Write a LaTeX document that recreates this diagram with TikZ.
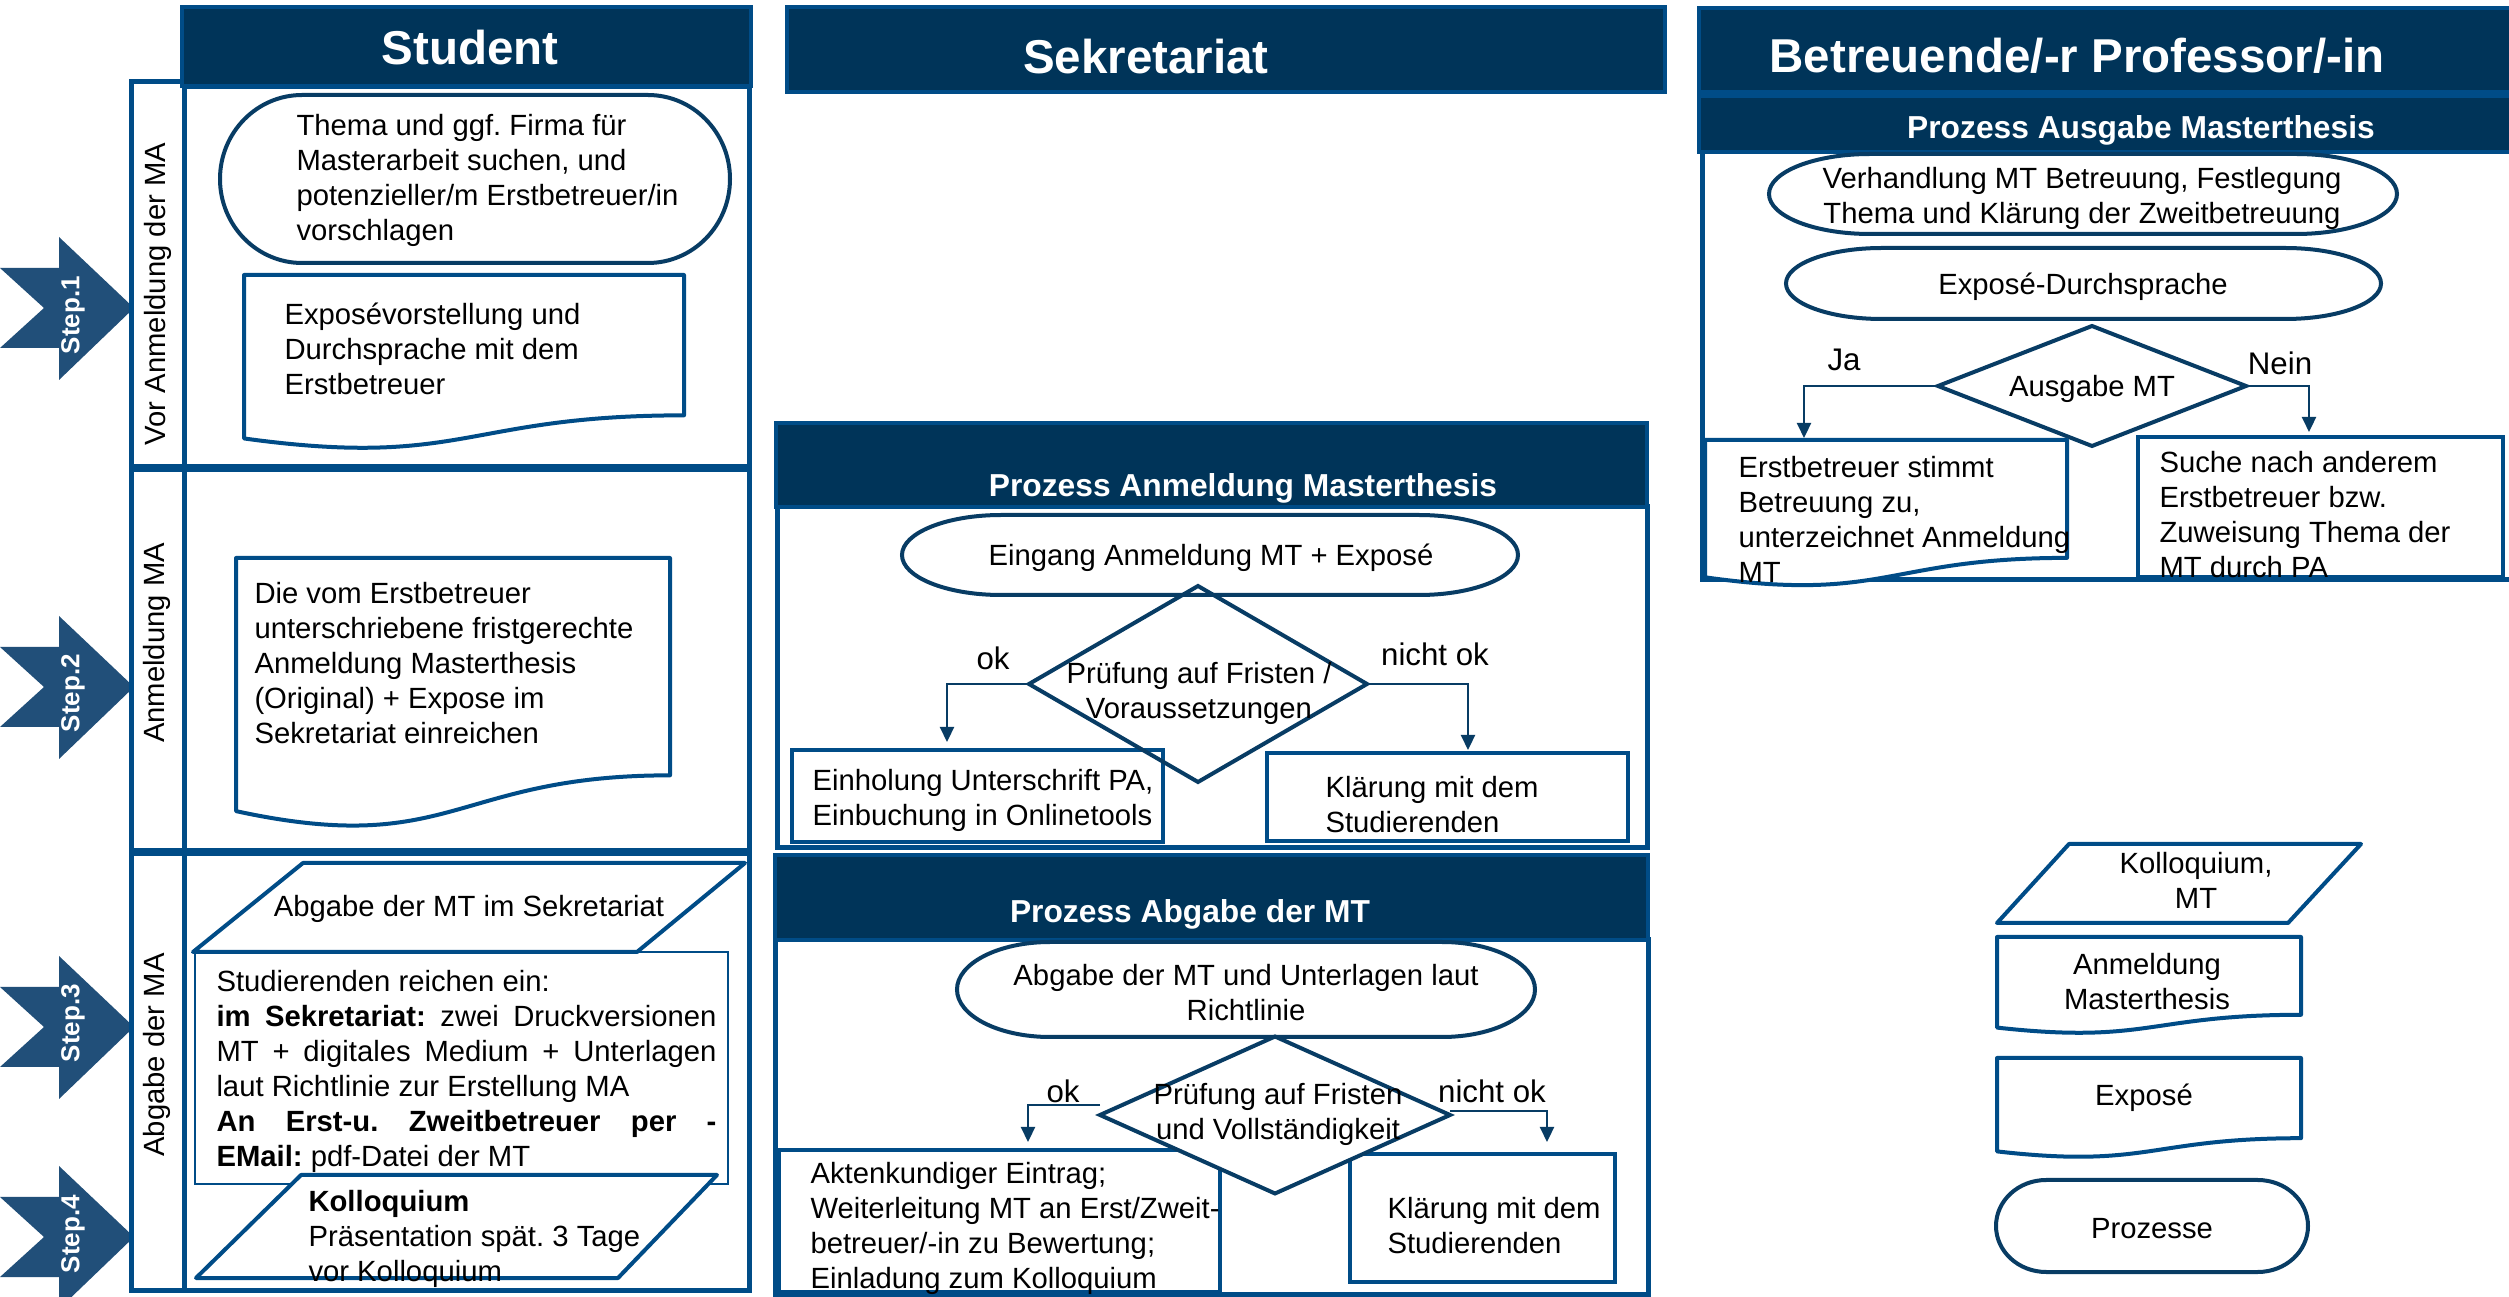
\documentclass[tikz,border=0pt]{standalone}
\usepackage{fontspec}
\setmainfont{Liberation Sans}
\usetikzlibrary{shapes.geometric,arrows.meta}
\definecolor{navy}{RGB}{0,52,89}
\definecolor{lineblue}{RGB}{0,76,135}
\definecolor{darkline}{RGB}{8,60,100}
\definecolor{stepblue}{RGB}{33,79,121}
\frenchspacing
\newcommand\boxnode[6]{\node[#6, minimum width={(#4-#2)*0.4pt}, minimum height={(#5-#3)*0.4pt}, inner sep=0pt, outer sep=0pt] (#1) at ({(#2+#4)/2},{(#3+#5)/2}) {};}
\newcommand\termshape[6]{%
 \pgfmathsetmacro\trx{0.161*(#4-#2)}%
 \pgfmathsetmacro\try{(#5-#3)/2}%
 \node[minimum width={(#4-#2)*0.4pt}, minimum height={(#5-#3)*0.4pt}, inner sep=0pt, outer sep=0pt] (#1) at ({(#2+#4)/2},{(#3+#5)/2}) {};
 \draw[#6] ({#2+\trx},#3) -- ({#4-\trx},#3) arc[start angle=90, end angle=-90, x radius=\trx*0.4pt, y radius=\try*0.4pt] -- ({#2+\trx},#5) arc[start angle=270, end angle=90, x radius=\trx*0.4pt, y radius=\try*0.4pt] -- cycle;}
\newcommand\docshape[5]{%
 \pgfmathsetmacro\dR{#3+0.802*#5}\pgfmathsetmacro\dC{#3+1.1075*#5}\pgfmathsetmacro\dL{#3+0.934*#5}\pgfmathsetmacro\dM{(#2+#4)/2}%
 \draw[docline] (#2,#3) -- (#4,#3) -- (#4,\dR) .. controls (\dM,\dR) and (\dM,\dC) .. (#2,\dL) -- cycle;
 \coordinate (#1) at (\dM,{#3+0.5*#5});}
\begin{document}
\begin{tikzpicture}[x=0.4pt,y=-0.4pt,
 hdr/.style={draw=lineblue, line width=1.4pt, fill=navy},
 cont/.style={draw=lineblue, line width=2pt, fill=white},
 bx/.style={draw=lineblue, line width=1.6pt, fill=white},
 termline/.style={draw=darkline, line width=1.6pt, fill=white},
 docline/.style={draw=lineblue, line width=1.6pt, fill=white, line join=round},
 paral/.style={draw=lineblue, line width=1.6pt, fill=white, line join=round},
 dia/.style={diamond, draw=darkline, line width=1.6pt, inner sep=0pt, outer sep=0pt},
 arr/.style={draw=darkline, line width=0.9pt, -{Triangle[length=6pt,width=5.6pt]}},
 txt/.style={font=\fontsize{11.7}{14}\selectfont, align=left, inner sep=0pt, anchor=west},
 ctxt/.style={font=\fontsize{11.7}{14}\selectfont, align=center, inner sep=0pt},
 lbl/.style={font=\fontsize{12.5}{15}\selectfont, inner sep=0pt},
 htxt/.style={font=\bfseries\fontsize{19}{22}\selectfont, text=white, inner sep=0pt},
 stxt/.style={font=\bfseries\fontsize{12.7}{15}\selectfont, text=white, inner sep=0pt},
 steptxt/.style={font=\bfseries\fontsize{10.4}{12}\selectfont, text=white, inner sep=0pt, rotate=90},
 vtxt/.style={font=\fontsize{11.7}{14}\selectfont, inner sep=0pt, rotate=90}
]
\useasboundingbox (0,0) rectangle (2509,1297);
\fill[white] (0,0) rectangle (2509,1297);

% ---------- step arrows ----------
\foreach \c/\o/\n in {308/7/1, 687/6/2, 1027/-4/3, 1237/-3/4}{
 \fill[stepblue] (0,{\c-40}) -- (59,{\c-40}) -- (59,{\c-71}) -- (134,\c) -- (59,{\c+72}) -- (59,{\c+40}) -- (0,{\c+40}) -- (44,\c) -- cycle;
 \node[steptxt] (step\n) at (73,{\c+\o}) {Step.\n};
}

% ---------- Student lane ----------
\boxnode{lab1}{131}{82}{184}{467}{cont}
\boxnode{row1}{184}{87}{749}{467}{cont}
\boxnode{lab2}{131}{470}{184}{851}{cont}
\boxnode{row2}{184}{470}{749}{851}{cont}
\boxnode{lab3}{131}{854}{184}{1290}{cont}
\boxnode{row3}{184}{854}{749}{1290}{cont}
\boxnode{hstud}{182}{7}{751}{86}{hdr}
\node[htxt] (tstud) at (470,48) {Student};
\node[vtxt] (vl1) at (158,294) {Vor Anmeldung der MA};
\node[vtxt] (vl2) at (157,643) {Anmeldung MA};
\node[vtxt] (vl3) at (157,1055) {Abgabe der MA};

\termshape{thema}{220}{95}{730}{263}{termline}
\node[txt] (tthema) at (296,180) {Thema und ggf. Firma für\\Masterarbeit suchen, und\\potenzieller/m Erstbetreuer/in\\vorschlagen};
\docshape{expdoc}{244}{275}{684}{175}
\node[txt] (texp) at (284,349) {Exposévorstellung und\\Durchsprache mit dem\\Erstbetreuer};
\docshape{anmdoc}{236}{558}{670}{271}
\node[txt] (tanm) at (254,663) {Die vom Erstbetreuer\\unterschriebene fristgerechte\\Anmeldung Masterthesis\\(Original) + Expose im\\Sekretariat einreichen};

\boxnode{studrect}{195}{952}{728}{1184}{draw=lineblue, line width=0.6pt, fill=white}
\draw[paral] (303,863) -- (745,863) -- (637,952) -- (193,952) -- cycle;
\node[ctxt] (tabg) at (469,909) {Abgabe der MT im Sekretariat};
\node[txt] (tstud2) at (216,1071) {Studierenden reichen ein:\\
\makebox[200pt][s]{\textbf{im Sekretariat:} zwei Druckversionen}\\
\makebox[200pt][s]{MT + digitales Medium + Unterlagen}\\
laut Richtlinie zur Erstellung MA\\
\makebox[200pt][s]{\textbf{An Erst-u. Zweitbetreuer per -}}\\
\textbf{EMail:} pdf-Datei der MT};
\draw[paral] (301,1175) -- (717,1175) -- (618,1278) -- (196,1278) -- cycle;
\node[txt] (tkoll) at (308,1239) {\textbf{Kolloquium}\\Präsentation spät. 3 Tage\\vor Kolloquium};

% ---------- Sekretariat lane ----------
\boxnode{hsek}{787}{7}{1665}{92}{hdr}
\node[htxt] (tsek) at (1146,57) {Sekretariat};

\boxnode{anmbody}{777}{507}{1647}{848}{cont}
\boxnode{anmhead}{776}{423}{1647}{507}{hdr}
\node[stxt] (tanmh) at (1243,488) {Prozess Anmeldung Masterthesis};
\termshape{eingang}{902}{515}{1518}{595}{termline}
\node[ctxt] (teing) at (1211,558) {Eingang Anmeldung MT + Exposé};
\boxnode{einhol}{792}{750}{1163}{842}{bx}
\node[txt] (teinhol) at (812,800) {Einholung Unterschrift PA,\\Einbuchung in Onlinetools};
\boxnode{klaer1}{1267}{753}{1628}{841}{bx}
\node[txt] (tklaer1) at (1325,805) {Klärung mit dem\\Studierenden};
\node[dia, minimum width={338*0.4pt}, minimum height={196*0.4pt}] (d1) at (1198,684) {};
\coordinate (e1) at (947,742);
\coordinate (e2) at (1468,750);
\draw[arr] (d1.west) -| (e1);
\draw[arr] (d1.east) -| (e2);
\node[ctxt] (td1) at (1199,693) {Prüfung auf Fristen /\\Voraussetzungen};
\node[lbl] (ok1) at (993,658) {ok};
\node[lbl] (nok1) at (1435,654) {nicht ok};

\boxnode{abgbody}{775}{940}{1648}{1294}{cont}
\boxnode{abghead}{775}{855}{1648}{940}{hdr}
\node[stxt] (tabgh) at (1190,914) {Prozess Abgabe der MT};
\termshape{abgterm}{957}{942}{1535}{1037}{termline}
\node[ctxt] (tabgt) at (1246,993) {Abgabe der MT und Unterlagen laut\\Richtlinie};
\boxnode{akten}{779}{1150}{1220}{1292}{bx}
\boxnode{klaer2}{1350}{1154}{1615}{1282}{bx}
\node[dia, fill=white, minimum width={350*0.4pt}, minimum height={157*0.4pt}] (d2) at (1275,1115) {};
\coordinate (e3) at (1028,1142);
\coordinate (e4) at (1547,1142);
\draw[arr] ([yshift=4pt]d2.west) -| (e3);
\draw[arr] ([yshift=1.6pt]d2.east) -| (e4);
\node[txt] (takten) at (810,1228) {Aktenkundiger Eintrag;\\Weiterleitung MT an Erst/Zweit-\\betreuer/-in zu Bewertung;\\Einladung zum Kolloquium};
\node[txt] (tklaer2) at (1387,1226) {Klärung mit dem\\Studierenden};
\node[ctxt] (td2) at (1278,1114) {Prüfung auf Fristen\\und Vollständigkeit};
\node[lbl] (ok2) at (1063,1091) {ok};
\node[lbl] (nok2) at (1492,1091) {nicht ok};

% ---------- Professor lane ----------
\boxnode{profbody}{1702}{152}{2530}{580}{cont}
\boxnode{profband}{1699}{96}{2530}{152}{hdr}
\boxnode{hprof}{1699}{8}{2530}{92}{hdr}
\node[htxt] (tprof) at (2077,56) {Betreuende/-r Professor/-in};
\node[stxt] (tprofb) at (2141,130) {Prozess Ausgabe Masterthesis};
\termshape{verh}{1769}{154}{2397}{234}{termline}
\node[ctxt] (tverh) at (2082,198) {Verhandlung MT Betreuung, Festlegung\\Thema und Klärung der Zweitbetreuung};
\termshape{exdurch}{1786}{248}{2381}{319}{termline}
\node[ctxt] (texd) at (2083,287) {Exposé-Durchsprache};
\node[dia, minimum width={308*0.4pt}, minimum height={120*0.4pt}] (d3) at (2092,386) {};
\node[ctxt] (td3) at (2092,389) {Ausgabe MT};
\docshape{erstdoc}{1705}{440}{2067}{147}
\node[txt] (terst) at (1738,519) {Erstbetreuer stimmt\\Betreuung zu,\\unterzeichnet Anmeldung\\MT};
\boxnode{suche}{2138}{437}{2503}{577}{bx}
\node[txt] (tsuche) at (2159,515) {Suche nach anderem\\Erstbetreuer bzw.\\Zuweisung Thema der\\MT durch PA};
\coordinate (e5) at (1804,438);
\coordinate (e6) at (2309,432);
\draw[arr] (d3.west) -| (e5);
\draw[arr] (d3.east) -| (e6);
\node[lbl] (ja) at (1844,360) {Ja};
\node[lbl] (nein) at (2280,363) {Nein};

% ---------- legend ----------
\draw[paral] (2069,844) -- (2361,844) -- (2288,923) -- (1997,923) -- cycle;
\node[ctxt] (tlk) at (2196,880) {Kolloquium,\\MT};
\docshape{legdoc1}{1997}{937}{2301}{97}
\node[ctxt] (tla) at (2147,982) {Anmeldung\\Masterthesis};
\docshape{legdoc2}{1997}{1058}{2301}{100}
\node[ctxt] (tle) at (2144,1098) {Exposé};
\termshape{legterm}{1996}{1180}{2308}{1272}{termline}
\node[ctxt] (tlp) at (2152,1229) {Prozesse};
\end{tikzpicture}
\end{document}
